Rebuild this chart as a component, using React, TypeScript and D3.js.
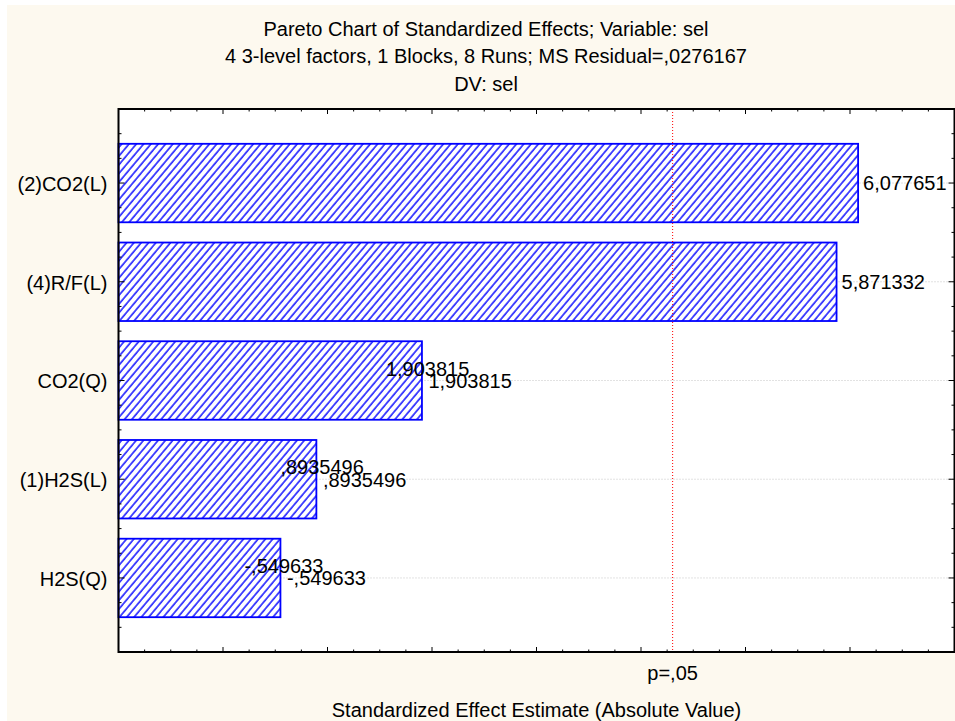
import React from "react";
import * as d3 from "d3";

// Chart text
const titleLines = [
  "Pareto Chart of Standardized Effects; Variable: sel",
  "4 3-level factors, 1 Blocks, 8 Runs; MS Residual=,0276167",
  "DV: sel",
];
const xAxisTitle = "Standardized Effect Estimate (Absolute Value)";

// Effects, ordered by absolute size
const effectNames = ["(2)CO2(L)", "(4)R/F(L)", "CO2(Q)", "(1)H2S(L)", "H2S(Q)"];
const effectValues = [6.077651, 5.871332, 1.903815, 0.8935496, -0.549633];
// STATISTICA prints a second copy of the value label on these rows
const repeatedLabel = [false, false, true, true, true];

// Critical t (df = 2, two-sided alpha = .05)
const criticalT = 4.302653;
const criticalLabel = "p=,05";

// Axis extents
const xDomain: [number, number] = [-1, 7];
const yDomain: [number, number] = [0.25, 5.75];

const W = 955;
const H = 721;
const M = { left: 118.5, right: 954.5, top: 109, bottom: 652 };
const FONT = "'Liberation Sans', Arial, Helvetica, sans-serif";
const BLUE = "#0000ff";

// Decimal comma, no leading zero: 0.8935496 -> ",8935496"
function fmt(v: number): string {
  return String(v).replace(/^(-?)0\./, "$1.").replace(".", ",");
}

function isWhole(v: number) {
  return Math.abs(v - Math.round(v)) < 1e-6;
}

export default function App() {
  const x = d3.scaleLinear().domain(xDomain).range([M.left, M.right]);
  const y = d3.scaleLinear().domain(yDomain).range([M.top, M.bottom]);
  const step = y(2) - y(1);
  const barH = step * 0.795;

  const xTicks = d3.range(xDomain[0], xDomain[1] + 1e-6, 0.25);
  const yTicks = d3.range(yDomain[0] + 0.25, yDomain[1] - 1e-6, 0.25);
  const titleX = 486;

  return (
    <svg
      width={W}
      height={H}
      style={{ position: "absolute", left: 0, top: 0, display: "block" }}
      fontFamily={FONT}
    >
      <defs>
        <pattern
          id="hatch"
          patternUnits="userSpaceOnUse"
          width={5.6}
          height={10}
          patternTransform="rotate(40)"
        >
          <rect width={5.6} height={10} fill="#ffffff" />
          <line x1={1} y1={0} x2={1} y2={10} stroke={BLUE} strokeWidth={1.4} />
        </pattern>
      </defs>

      <rect x={0} y={0} width={W} height={H} fill="#ffffff" />
      <rect x={7} y={5} width={W - 7} height={H - 5} fill="#fdf9ef" />

      {/* titles */}
      {titleLines.map((t, i) => (
        <text
          key={i}
          x={titleX}
          y={35.7 + i * 27.5}
          textAnchor="middle"
          fontSize={20}
          fill="#000"
        >
          {t}
        </text>
      ))}

      {/* plot area */}
      <rect
        x={M.left}
        y={M.top}
        width={M.right - M.left}
        height={M.bottom - M.top}
        fill="#ffffff"
      />

      {/* horizontal dotted grid at category centres */}
      {effectNames.map((_, i) => (
        <line
          key={"g" + i}
          x1={M.left}
          x2={M.right}
          y1={y(i + 1)}
          y2={y(i + 1)}
          stroke="#c4c4c4"
          strokeWidth={1}
          strokeDasharray="1 2"
        />
      ))}

      {/* bars */}
      {effectValues.map((v, i) => (
        <rect
          key={"b" + i}
          x={x(xDomain[0])}
          y={y(i + 1) - barH / 2}
          width={x(Math.abs(v)) - x(xDomain[0])}
          height={barH}
          fill="url(#hatch)"
          stroke={BLUE}
          strokeWidth={1.8}
        />
      ))}

      {/* critical value line */}
      <line
        x1={x(criticalT)}
        x2={x(criticalT)}
        y1={M.top}
        y2={M.bottom}
        stroke="#ff0000"
        strokeWidth={1}
        strokeDasharray="1 2"
      />

      {/* value labels */}
      {effectValues.map((v, i) => {
        const end = x(Math.abs(v));
        const cy = y(i + 1);
        return (
          <g key={"l" + i} fontSize={20} fill="#000">
            {repeatedLabel[i] && (
              <text x={end - 36} y={cy - 5}>
                {fmt(v)}
              </text>
            )}
            <text x={end + (repeatedLabel[i] ? 6.5 : 5)} y={cy + 7.3}>
              {fmt(v)}
            </text>
          </g>
        );
      })}

      {/* category labels */}
      {effectNames.map((n, i) => (
        <text
          key={"c" + i}
          x={107.5}
          y={y(i + 1) + 7.8}
          textAnchor="end"
          fontSize={20}
          fill="#000"
        >
          {n}
        </text>
      ))}

      {/* ticks (inward, all four sides) */}
      {xTicks.map((v, i) => {
        const len = isWhole(v) ? 5 : 2.5;
        return (
          <g key={"xt" + i} stroke="#000" strokeWidth={1}>
            <line x1={x(v)} x2={x(v)} y1={M.bottom} y2={M.bottom - len} />
            <line x1={x(v)} x2={x(v)} y1={M.top} y2={M.top + len} />
          </g>
        );
      })}
      {yTicks.map((v, i) => {
        const len = isWhole(v) ? 6 : 3;
        return (
          <g key={"yt" + i} stroke="#000" strokeWidth={1}>
            <line x1={M.left} x2={M.left + len} y1={y(v)} y2={y(v)} />
            <line x1={M.right} x2={M.right - len} y1={y(v)} y2={y(v)} />
          </g>
        );
      })}

      {/* frame */}
      <rect
        x={M.left}
        y={M.top}
        width={M.right - M.left}
        height={M.bottom - M.top}
        fill="none"
        stroke="#000"
        strokeWidth={2}
      />

      {/* critical value caption */}
      <text x={x(criticalT)} y={680} textAnchor="middle" fontSize={20} fill="#000">
        {criticalLabel}
      </text>

      {/* x axis title */}
      <text
        x={(M.left + M.right) / 2}
        y={716.5}
        textAnchor="middle"
        fontSize={20}
        fill="#000"
      >
        {xAxisTitle}
      </text>
    </svg>
  );
}
